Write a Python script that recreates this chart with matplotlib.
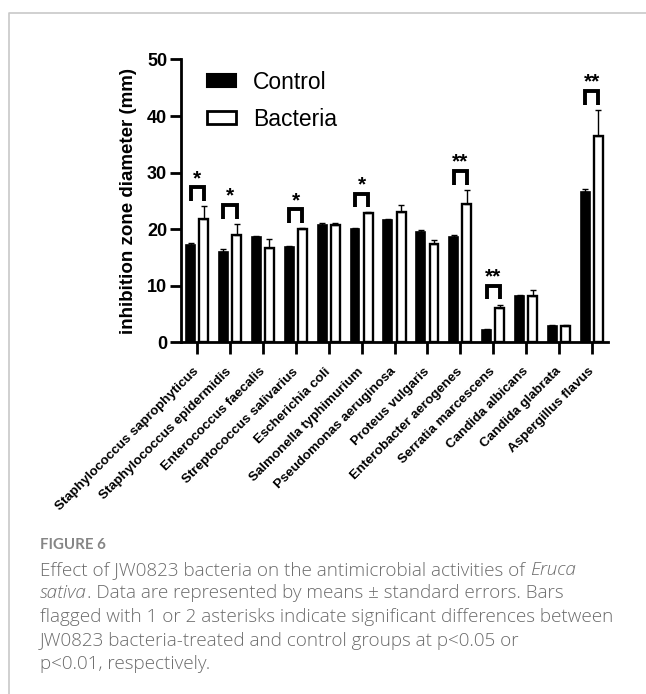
import numpy as np
import matplotlib
matplotlib.use('Agg')
import matplotlib.pyplot as plt
from matplotlib.patches import Patch
from matplotlib.lines import Line2D
from matplotlib.transforms import IdentityTransform

plt.rcParams['font.family'] = ['Liberation Sans', 'DejaVu Sans']

# inhibition zone diameter (mm)
species = ['Staphylococcus saprophyticus', 'Staphylococcus epidermidis',
           'Enterococcus faecalis', 'Streptococcus salivarius', 'Escherichia coli',
           'Salmonella typhimurium', 'Pseudomonas aeruginosa', 'Proteus vulgaris',
           'Enterobacter aerogenes', 'Serratia marcescens', 'Candida albicans',
           'Candida glabrata', 'Aspergillus flavus']
control = [17.3, 15.9, 18.7, 16.9, 20.8, 20.1, 21.6, 19.6, 18.7, 2.2, 8.3, 2.9, 26.6]
control_err = [0.2, 0.6, 0.15, 0.2, 0.3, 0.2, 0.2, 0.2, 0.2, 0.15, 0.15, 0.15, 0.5]
bacteria = [21.9, 19.0, 16.7, 20.0, 20.8, 22.8, 23.1, 17.4, 24.5, 6.1, 8.3, 2.9, 36.5]
bacteria_err = [2.2, 2.0, 1.6, 0.2, 0.3, 0.2, 1.2, 0.7, 2.5, 0.6, 0.9, 0.15, 4.6]
signif = ['*', '*', '', '*', '', '*', '', '', '**', '**', '', '', '**']

W, H = 646, 694
fig = plt.figure(figsize=(W / 100, H / 100), dpi=100)
ax = fig.add_axes([181 / W, 1 - 342.5 / H, 427 / W, 283.1 / H])

n = len(species)
x = np.arange(n)
bw = 0.27
off = 0.2
ax.bar(x - off, control, bw, color='black', edgecolor='black', linewidth=1.2, zorder=2)
ax.bar(x + off, bacteria, bw, color='white', edgecolor='black', linewidth=1.7, zorder=2)
ax.errorbar(x - off, control, yerr=[np.zeros(n), control_err], fmt='none',
            ecolor='black', elinewidth=1, capsize=2.5, capthick=1, zorder=3)
ax.errorbar(x + off, bacteria, yerr=[np.zeros(n), bacteria_err], fmt='none',
            ecolor='black', elinewidth=1, capsize=2.5, capthick=1, zorder=3)

# significance brackets
for i, s in enumerate(signif):
    if not s:
        continue
    y0 = bacteria[i] + bacteria_err[i] + 0.9
    y1 = y0 + 2.4
    ax.plot([i - off, i - off, i + off, i + off], [y0, y1, y1, y0], color='black',
            lw=2.8, solid_joinstyle='miter', solid_capstyle='butt', zorder=4)
    ax.text(i, y1 + 0.6, s, ha='center', va='baseline', fontsize=15,
            fontweight='bold', clip_on=False)

ax.set_xlim(-0.49, 12.49)
ax.set_ylim(0, 50)
ax.set_yticks([0, 10, 20, 30, 40, 50])
ax.set_xticks(x)
ax.set_xticklabels(species, rotation=45, ha='right', va='center',
                   rotation_mode='anchor', fontsize=9.6, fontweight='bold')
for lab in ax.get_yticklabels():
    lab.set_fontweight('bold')
ax.tick_params(axis='y', width=2, length=8, labelsize=13, pad=2)
ax.tick_params(axis='x', width=2, length=8.6, pad=11)
for sp in ['top', 'right']:
    ax.spines[sp].set_visible(False)
for sp in ['left', 'bottom']:
    ax.spines[sp].set_linewidth(2)
ax.set_ylabel('inhibition zone diameter (mm)', fontsize=13.5, fontweight='bold')
ax.yaxis.set_label_coords(-0.103, 0.5)

handles = [Patch(facecolor='black', edgecolor='black', linewidth=1.5),
           Patch(facecolor='white', edgecolor='black', linewidth=2)]
ax.legend(handles, ['Control', 'Bacteria'], loc='upper left',
          bbox_to_anchor=(207 / W, 1 - 71 / H), bbox_transform=fig.transFigure,
          frameon=False, fontsize=16.5, borderpad=0, borderaxespad=0,
          handlelength=1.27, handleheight=0.5, handletextpad=0.74,
          labelspacing=0.6)

# page border
fig.add_artist(Line2D([9 / W, 9 / W, 1], [0, 1 - 13 / H, 1 - 13 / H],
                      transform=fig.transFigure, color='#c8c8c8', lw=1.2))

# caption
r = fig.canvas.get_renderer()


def text_w(s, **kw):
    t = fig.text(0, 0, s, transform=IdentityTransform(), **kw)
    w = t.get_window_extent(r).width
    t.remove()
    return w


def put(px, py, s, **kw):
    fig.text(px, H - py, s, transform=IdentityTransform(), va='baseline', **kw)


l1 = 'Effect of JW0823 bacteria on the antimicrobial activities of'
l3 = 'flagged with 1 or 2 asterisks indicate significant differences between'
fam = ['Open Sans', 'DejaVu Sans']
base = dict(fontsize=12, family=fam, fontweight='light')
size = 12 * 573 / text_w(l3, **base)
cap = dict(fontsize=size, color='#6b6b6b', family=fam, fontweight='light')
capi = dict(cap, style='italic')

x0 = 40
space = text_w('a a', **cap) - text_w('aa', **cap)
put(x0, 549, 'FIGURE 6', fontsize=10.8, color='#858585', fontweight='bold',
    family=['Lato', 'DejaVu Sans'])
put(x0, 575, l1, **cap)
put(x0 + text_w(l1, **cap) + space, 575, 'Eruca', **capi)
put(x0, 598.5, 'sativa', **capi)
put(x0 + text_w('sativa', **capi) + 0.5, 598.5,
    '. Data are represented by means \u00b1 standard errors. Bars', **cap)
put(x0, 622, l3, **cap)
put(x0, 645.5, 'JW0823 bacteria-treated and control groups at p<0.05 or', **cap)
put(x0, 669, 'p<0.01, respectively.', **cap)

fig.savefig('out.png', dpi=100)
